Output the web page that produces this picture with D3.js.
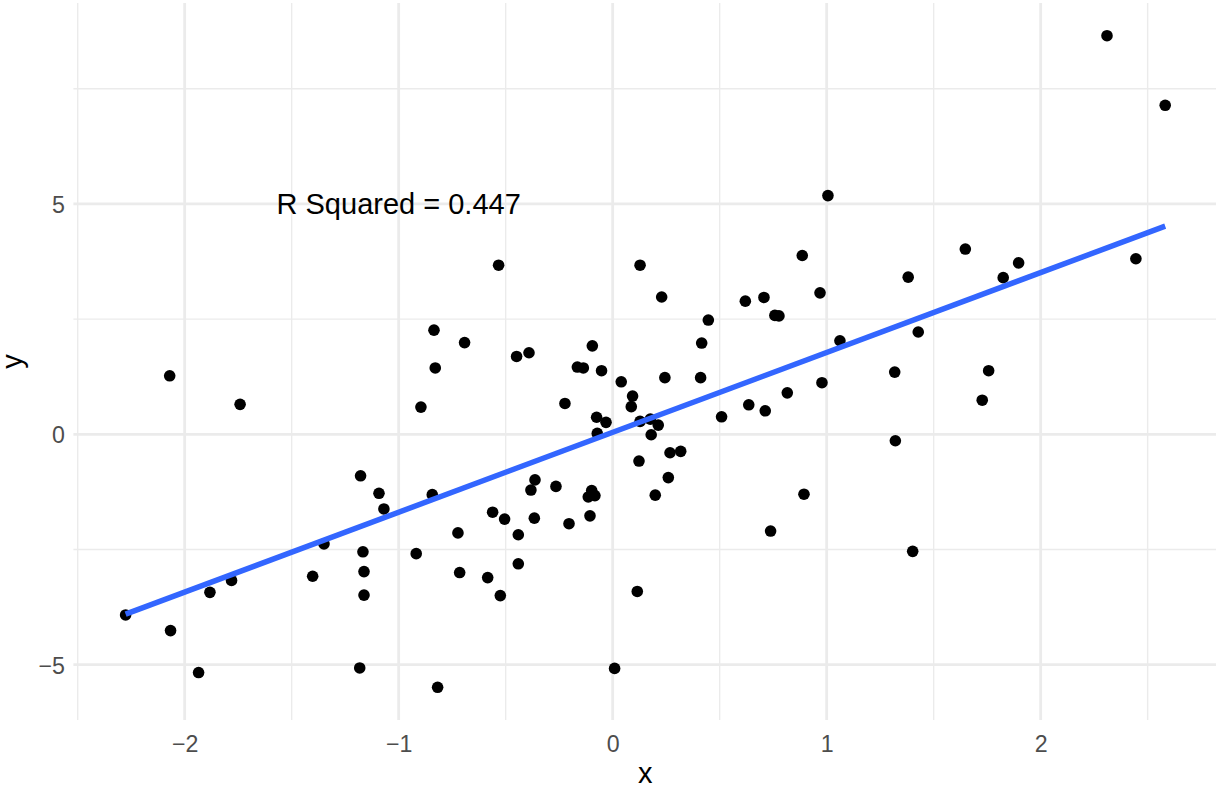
<!DOCTYPE html>
<html>
<head>
<meta charset="utf-8">
<script src="https://cdn.jsdelivr.net/npm/d3@7"></script>
<style>
  html, body { margin: 0; padding: 0; background: #fff; }
  svg { display: block; font-family: "Liberation Sans", Arial, sans-serif; }
</style>
</head>
<body>
<svg id="chart" width="1216" height="789"></svg>
<script>
// ---- data ----
const xValues = [
  -2.070, -1.741, -0.835, -0.692, -0.829, -0.896,
  -1.178, -1.092, -1.069, -0.843, -2.276, -2.066, -1.882, -1.781, -1.935,
  -1.349, -1.402, -1.167, -1.162, -1.162, -1.182, -0.918, -0.723, -0.715, -0.818,
  -0.533, -0.449, -0.391, 0.128, 0.229, -0.095, -0.165, -0.137, -0.052, 0.040,
  0.093, 0.087, -0.223, -0.075, -0.031, -0.072, 0.128, 0.176, 0.213, 0.180,
  0.244, 0.416, 0.447, 0.411, 0.620, 0.707, 0.758, 0.777, 1.006, 0.886,
  0.969, 1.062, 0.978, 0.816, 0.509, 0.636, 0.713,
  0.268, 0.318, 0.123, 0.260, 0.199, -0.363, -0.382, -0.265, -0.098, -0.114,
  -0.083, -0.561, -0.505, -0.366, -0.441, -0.204, -0.106, -0.441, -0.584, -0.525,
  0.115, 0.009, 0.894, 0.738,
  2.310, 2.582, 1.648, 1.897, 1.825, 1.381, 2.445, 1.428, 1.318, 1.757, 1.727,
  1.321, 1.402
];
const yValues = [
  1.27, 0.65, 2.26, 1.99, 1.44, 0.59,
  -0.90, -1.28, -1.62, -1.31, -3.92, -4.26, -3.43, -3.17, -5.17,
  -2.38, -3.08, -2.55, -2.98, -3.49, -5.07, -2.59, -2.14, -3.00, -5.49,
  3.67, 1.69, 1.77, 3.67, 2.98, 1.92, 1.46, 1.44, 1.38, 1.14,
  0.83, 0.60, 0.67, 0.37, 0.26, 0.02, 0.28, 0.33, 0.20, -0.01,
  1.23, 1.98, 2.48, 1.23, 2.89, 2.97, 2.58, 2.57, 5.18, 3.88,
  3.07, 2.03, 1.12, 0.90, 0.38, 0.64, 0.51,
  -0.40, -0.37, -0.58, -0.94, -1.32, -0.99, -1.21, -1.13, -1.22, -1.36,
  -1.33, -1.69, -1.84, -1.82, -2.18, -1.94, -1.77, -2.81, -3.11, -3.50,
  -3.41, -5.08, -1.30, -2.10,
  8.65, 7.14, 4.02, 3.72, 3.40, 3.41, 3.81, 2.22, 1.35, 1.38, 0.74,
  -0.14, -2.54
];
const xTicks = [-2, -1, 0, 1, 2];
const xMinor = [-2.5, -1.5, -0.5, 0.5, 1.5, 2.5];
const yTicks = [-5, 0, 5];
const yMinor = [-2.5, 2.5, 7.5];
const annotationText = "R Squared = 0.447";
const annotationPos = { x: -1, y: 5 };
const xTitle = "x", yTitle = "y";

// ---- layout ----
const svg = d3.select("#chart");
const panel = { left: 73.4, right: 1217.2, top: 3, bottom: 720 };

const x = d3.scaleLinear().domain([-2.52, 2.825]).range([panel.left, panel.right]);
const y = d3.scaleLinear().domain([-6.2, 9.36]).range([panel.bottom, panel.top]);

const points = xValues.map((v, i) => ({ x: v, y: yValues[i] }));

// linear fit (geom_smooth method = "lm")
const mx = d3.mean(points, d => d.x), my = d3.mean(points, d => d.y);
const slope = d3.sum(points, d => (d.x - mx) * (d.y - my)) / d3.sum(points, d => (d.x - mx) ** 2);
const intercept = my - slope * mx;
const [xLo, xHi] = d3.extent(xValues);
const fit = [xLo, xHi].map(v => ({ x: v, y: intercept + slope * v }));

// ---- grid ----
const grid = svg.append("g");
grid.selectAll(".vminor").data(xMinor).join("line")
  .attr("x1", d => x(d)).attr("x2", d => x(d))
  .attr("y1", panel.top).attr("y2", panel.bottom)
  .attr("stroke", "#EBEBEB").attr("stroke-width", 1.4);
grid.selectAll(".hminor").data(yMinor).join("line")
  .attr("y1", d => y(d)).attr("y2", d => y(d))
  .attr("x1", panel.left).attr("x2", panel.right)
  .attr("stroke", "#EBEBEB").attr("stroke-width", 1.4);
grid.selectAll(".vmajor").data(xTicks).join("line")
  .attr("x1", d => x(d)).attr("x2", d => x(d))
  .attr("y1", panel.top).attr("y2", panel.bottom)
  .attr("stroke", "#EBEBEB").attr("stroke-width", 2.8);
grid.selectAll(".hmajor").data(yTicks).join("line")
  .attr("y1", d => y(d)).attr("y2", d => y(d))
  .attr("x1", panel.left).attr("x2", panel.right)
  .attr("stroke", "#EBEBEB").attr("stroke-width", 2.8);

// ---- axes (text only, like theme_minimal) ----
const fmt = d => (d < 0 ? "\u2212" + Math.abs(d) : String(d));
const xAxis = svg.append("g").attr("transform", `translate(0,${panel.bottom})`)
  .call(d3.axisBottom(x).tickValues(xTicks).tickFormat(fmt).tickSize(0).tickPadding(0));
xAxis.select(".domain").remove();
xAxis.selectAll("text").attr("font-size", 23.2).attr("fill", "#4D4D4D")
  .attr("font-family", "Liberation Sans, Arial, sans-serif")
  .attr("dy", null).attr("y", 32);

const yAxis = svg.append("g").attr("transform", `translate(${65},0)`)
  .call(d3.axisLeft(y).tickValues(yTicks).tickFormat(fmt).tickSize(0).tickPadding(0));
yAxis.select(".domain").remove();
yAxis.selectAll("text").attr("font-size", 23.2).attr("fill", "#4D4D4D")
  .attr("font-family", "Liberation Sans, Arial, sans-serif")
  .attr("x", 0).attr("dy", "0.36em");

// ---- points ----
svg.append("g").selectAll("circle").data(points).join("circle")
  .attr("cx", d => x(d.x)).attr("cy", d => y(d.y)).attr("r", 5.8)
  .attr("fill", "#000");

// ---- fit line ----
svg.append("path").datum(fit)
  .attr("d", d3.line().x(d => x(d.x)).y(d => y(d.y)))
  .attr("fill", "none").attr("stroke", "#3366FF").attr("stroke-width", 5.5);

// ---- annotation ----
svg.append("text")
  .attr("x", x(annotationPos.x)).attr("y", y(annotationPos.y))
  .attr("dy", "0.36em").attr("text-anchor", "middle")
  .attr("font-size", 29).attr("fill", "#000").text(annotationText);

// ---- axis titles ----
svg.append("text")
  .attr("x", (panel.left + panel.right) / 2).attr("y", 783)
  .attr("text-anchor", "middle").attr("font-size", 29).attr("fill", "#000").text(xTitle);
svg.append("text")
  .attr("transform", `translate(22,${(panel.top + panel.bottom) / 2}) rotate(-90)`)
  .attr("text-anchor", "middle").attr("font-size", 29).attr("fill", "#000").text(yTitle);
</script>
</body>
</html>
